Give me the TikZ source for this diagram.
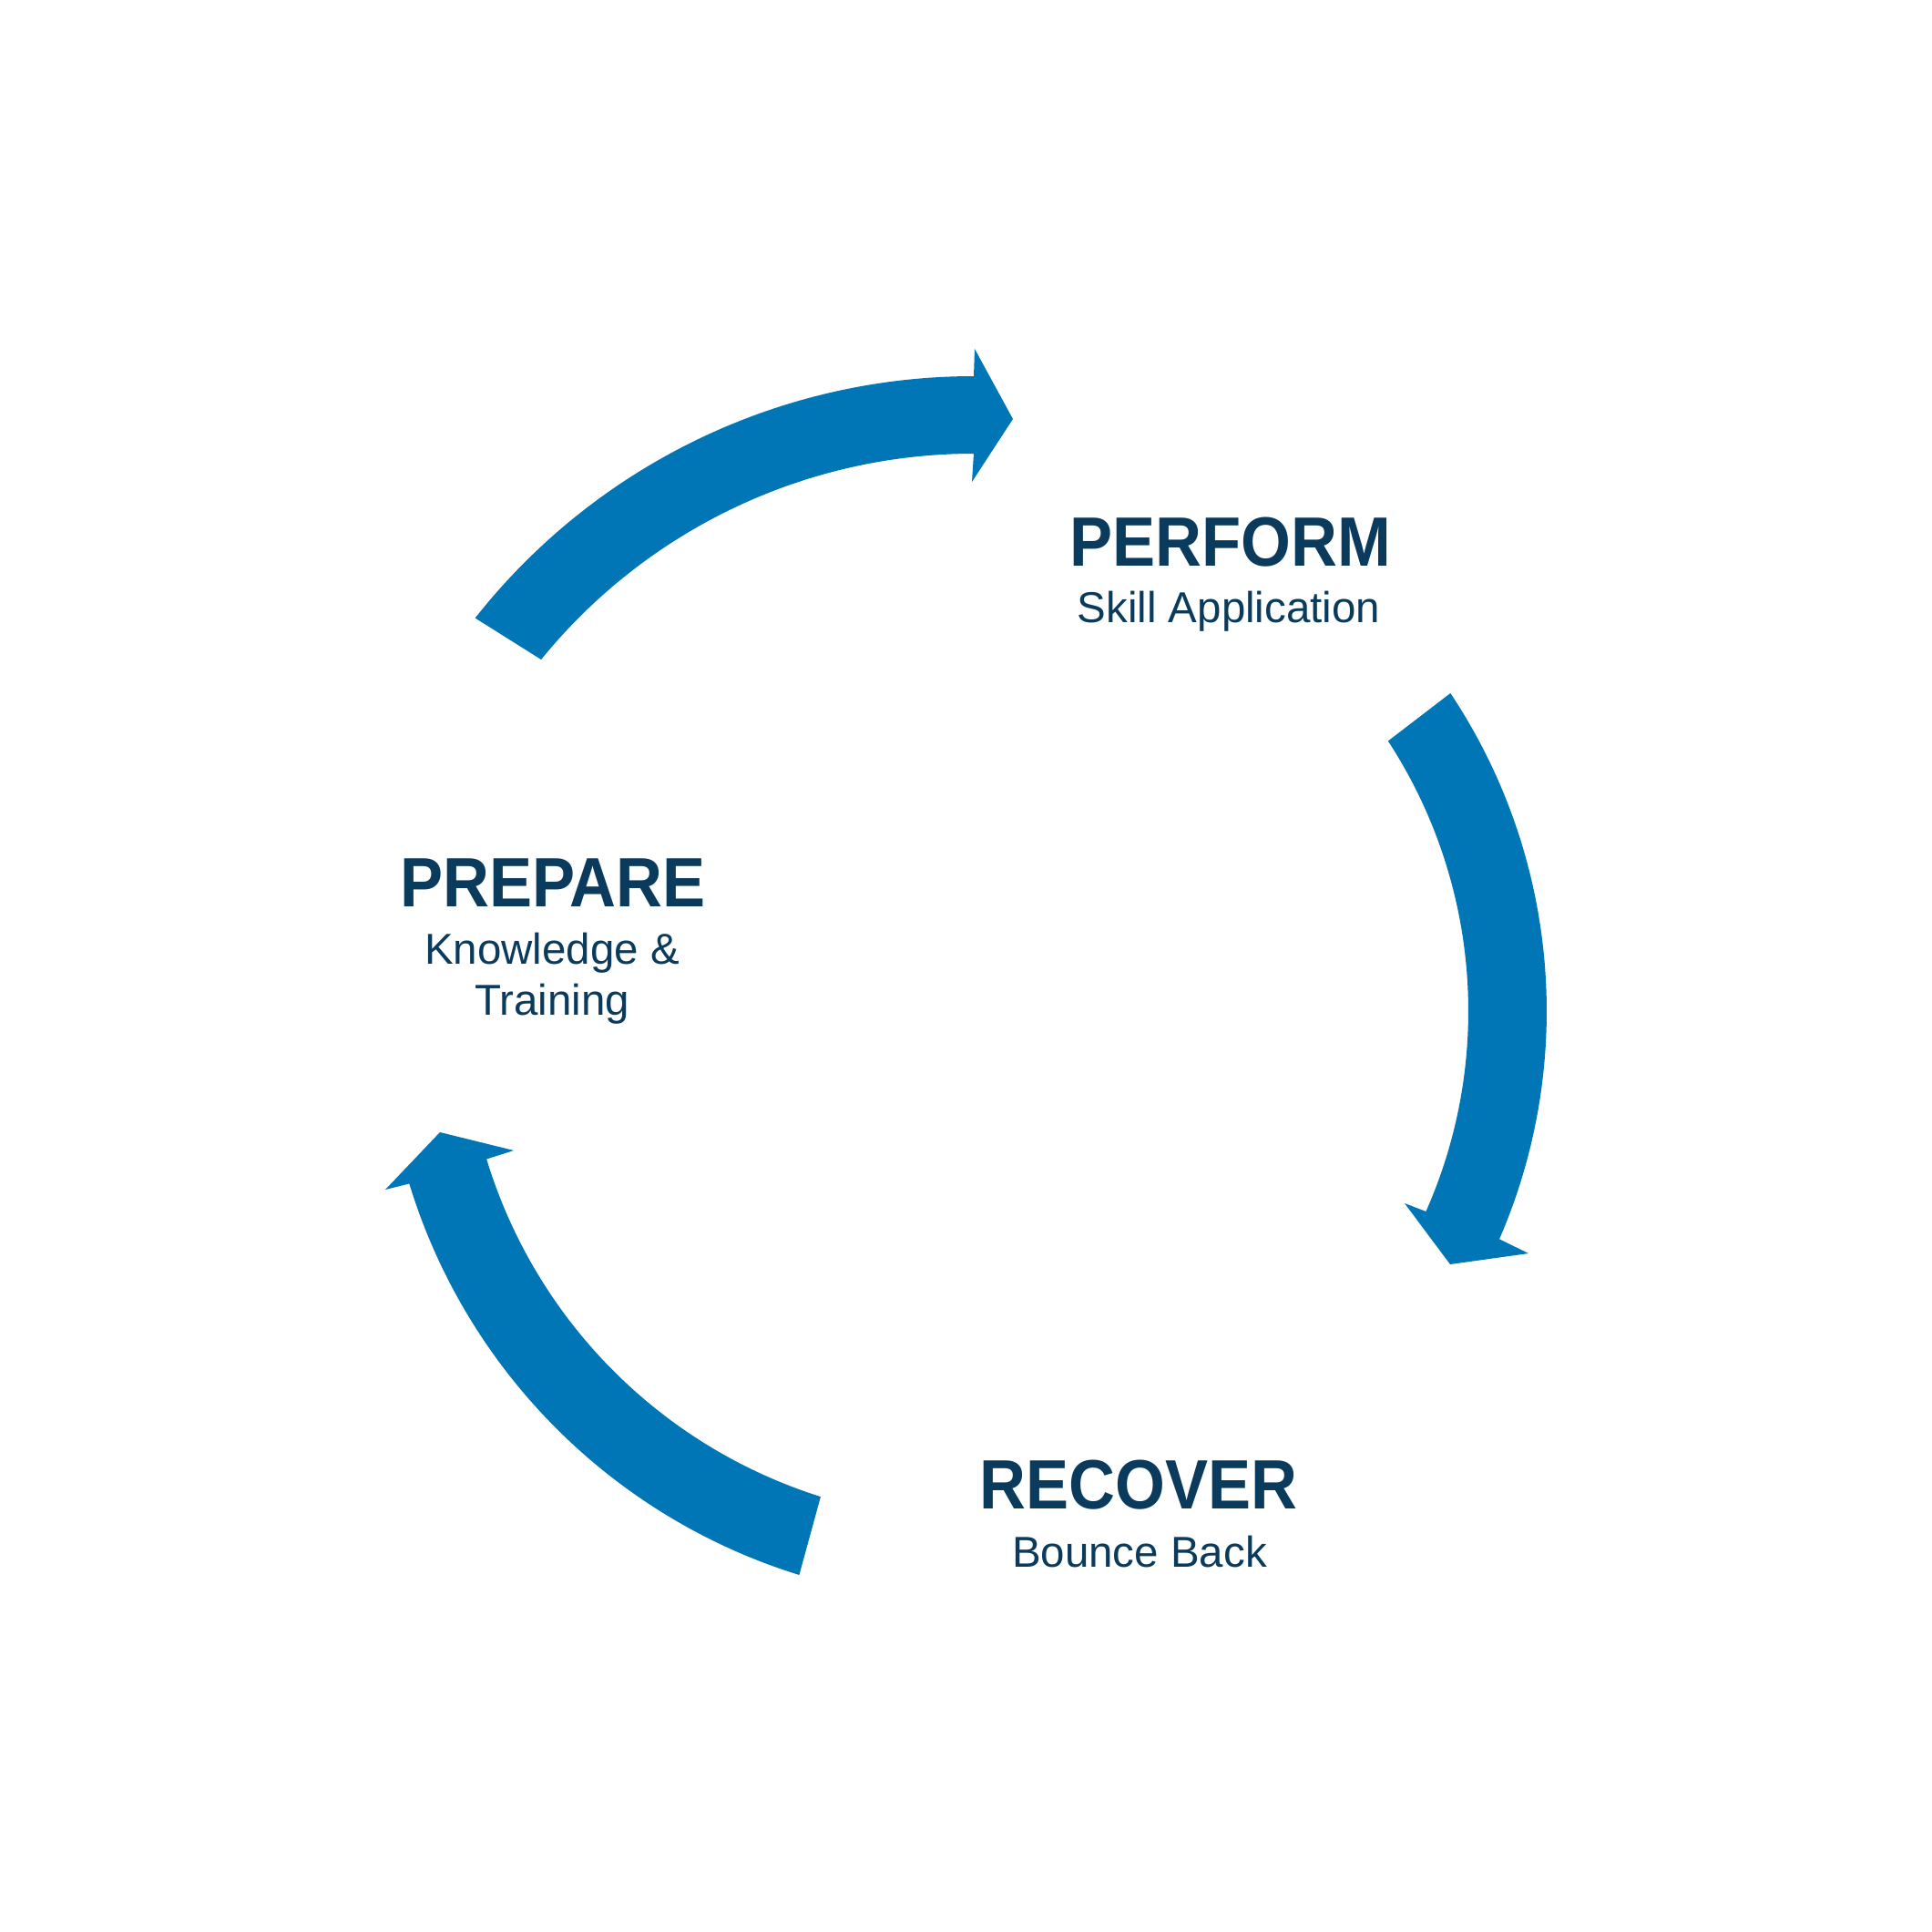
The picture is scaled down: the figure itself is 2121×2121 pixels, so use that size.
\documentclass[tikz,border=0pt]{standalone}
\usepackage{fontspec}
\setmainfont{Liberation Sans}
\newfontfamily\titlefont{Liberation Sans}[FakeStretch=0.92]
\definecolor{arrowblue}{HTML}{0076B6}
\definecolor{stagenavy}{HTML}{0A3A5C}
\tikzset{
  cyclearrow/.style={fill=arrowblue, draw=none},
  stagetitle/.style={text=stagenavy, inner sep=0pt, anchor=base,
    font=\titlefont\bfseries\fontsize{21.8}{26}\selectfont},
  stagesub/.style={text=stagenavy, inner sep=0pt, align=center,
    font=\fontsize{13.5}{15.9}\selectfont},
}
\begin{document}
\begin{tikzpicture}[x=0.01cm, y=-0.01cm]
  \useasboundingbox (0,0) rectangle (2121,2121);
  \coordinate (hub) at (1069,1110);

  % Arrow from prepare to perform
  \fill[cyclearrow] ([shift={(218.25:697)}]hub) arc (218.25:270:697)
    -- (1070,383) -- (1112,460) -- (1067,529)
    -- ([shift={(270:612)}]hub) arc (270:219.1:612) -- cycle;

  % Arrow from perform to recover
  \fill[cyclearrow] ([shift={(-33.7:629)}]hub) arc (-33.7:23.45:629)
    -- (1678,1376) -- (1592,1388) -- (1542,1321)
    -- ([shift={(23.9:543)}]hub) arc (23.9:-33.1:543) -- cycle;

  % Arrow from recover to prepare
  \fill[cyclearrow] ([shift={(107.2:648)}]hub) arc (107.2:163:648)
    -- (423,1306) -- (483,1243) -- (564,1263)
    -- ([shift={(163.1:559)}]hub) arc (163.1:107.5:559) -- cycle;

  % Labels
  \node[stagetitle] (perform) at (1351,621) {PERFORM};
  \node[stagesub, anchor=base] (performsub) at (1349,683) {Skill Application};

  \node[stagetitle] (prepare) at (607,995) {PREPARE};
  \node[stagesub, anchor=north] (preparesub) at (606,1023) {Knowledge \&\\Training};

  \node[stagetitle] (recover) at (1250,1656) {RECOVER};
  \node[stagesub, anchor=base] (recoversub) at (1251,1720) {Bounce Back};
\end{tikzpicture}
\end{document}
